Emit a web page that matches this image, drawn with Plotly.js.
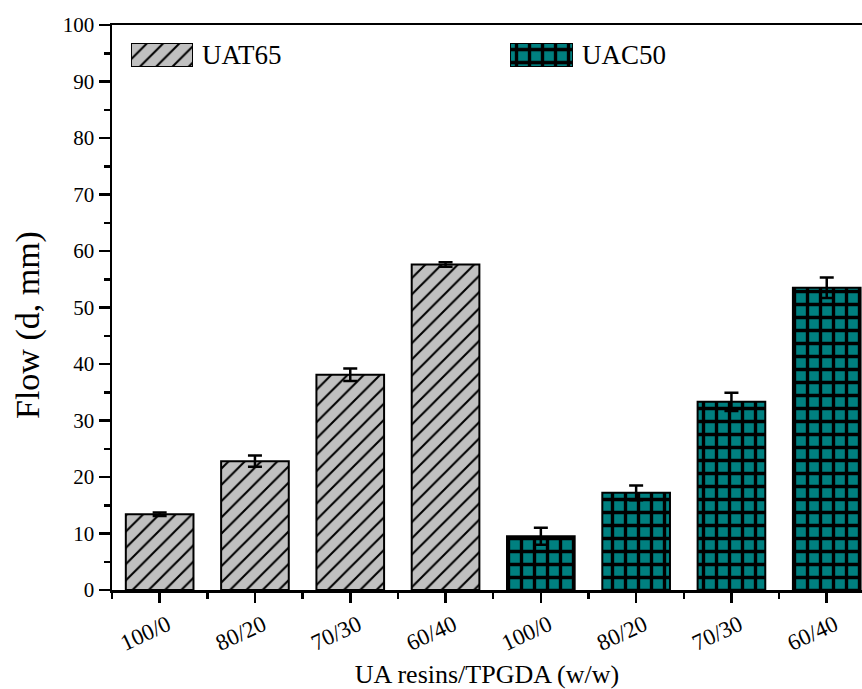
<!DOCTYPE html>
<html>
<head>
<meta charset="utf-8">
<script src="https://cdn.plot.ly/plotly-3.0.1.min.js"></script>
<style>html,body{margin:0;padding:0;background:#fff;overflow:hidden}</style>
</head>
<body>
<div id="chart" style="width:862px;height:689px"></div>
<script>
// UA resin / TPGDA blend ratios (w/w)
const ratios = ['100/0', '80/20', '70/30', '60/40'];
const seriesNames = ['UAT65', 'UAC50'];
// Flow distance d (mm) and its error
const uat65Flow = [13.4, 22.8, 38.1, 57.6];
const uat65Err = [0.3, 1.0, 1.1, 0.4];
const uac50Flow = [9.5, 17.2, 33.3, 53.5];
const uac50Err = [1.5, 1.3, 1.6, 1.8];
const yTickVals = [0, 10, 20, 30, 40, 50, 60, 70, 80, 90, 100];

const FONT = '"Liberation Serif", "Times New Roman", Times, serif';
const hatch = {shape: '/', bgcolor: '#c0c0c0', fgcolor: '#000000', size: 11.5, solidity: 0.18, fillmode: 'replace'};
const grid = {shape: '+', bgcolor: '#008080', fgcolor: '#000000', size: 13, solidity: 0.45, fillmode: 'replace'};

const uatX = ratios.map((_, i) => i);
const uacX = ratios.map((_, i) => i + ratios.length);
const errStyle = {type: 'data', visible: true, color: '#000', thickness: 2.5, width: 7};
const barLine = {color: '#000', width: 2};

const traces = [
  {type: 'bar', name: seriesNames[0], x: uatX, y: uat65Flow, width: 0.71,
   marker: {color: '#c0c0c0', pattern: hatch, line: barLine},
   error_y: Object.assign({array: uat65Err}, errStyle), showlegend: false},
  {type: 'bar', name: seriesNames[1], x: uacX, y: uac50Flow, width: 0.71,
   marker: {color: '#008080', pattern: grid, line: barLine},
   error_y: Object.assign({array: uac50Err}, errStyle), showlegend: false},
  // legend swatches, each filling its own small axis box
  {type: 'bar', x: [seriesNames[0]], y: [1], width: 1, xaxis: 'x2', yaxis: 'y2',
   marker: {color: '#c0c0c0', pattern: hatch, line: barLine}, showlegend: false, hoverinfo: 'skip'},
  {type: 'bar', x: [seriesNames[1]], y: [1], width: 1, xaxis: 'x3', yaxis: 'y2',
   marker: {color: '#008080', pattern: grid, line: barLine}, showlegend: false, hoverinfo: 'skip'}
];

const hiddenAxis = {visible: false, fixedrange: true};
const layout = {
  width: 862, height: 689,
  margin: {l: 112, r: 0, t: 25, b: 99},
  paper_bgcolor: '#fff', plot_bgcolor: '#fff',
  font: {family: FONT, color: '#000', size: 20},
  showlegend: false,
  bargap: 0,
  xaxis: {
    range: [-0.5, 7.37],
    tickmode: 'array', tickvals: uatX.concat(uacX), ticktext: ratios.concat(ratios),
    tickangle: -25, ticks: 'outside', ticklen: 10, tickwidth: 2.5, tickcolor: '#000',
    ticklabelshift: 8, ticklabelstandoff: 0,
    minor: {ticks: 'outside', ticklen: 6, tickwidth: 2.5, tickcolor: '#000', tickmode: 'linear', tick0: -0.5, dtick: 1},
    showline: true, linewidth: 2.5, linecolor: '#000', mirror: true,
    showgrid: false, zeroline: false,
    tickfont: {family: FONT, size: 23},
    title: {text: 'UA resins/TPGDA (w/w)', font: {family: FONT, size: 26}, standoff: 12}
  },
  yaxis: {
    range: [0, 100],
    tickmode: 'array', tickvals: yTickVals,
    ticks: 'outside', ticklen: 11, tickwidth: 2.5, tickcolor: '#000',
    minor: {ticks: 'outside', ticklen: 6, tickwidth: 2.5, tickcolor: '#000', tickmode: 'linear', tick0: 5, dtick: 10},
    showline: true, linewidth: 2.5, linecolor: '#000',
    showgrid: false, zeroline: false,
    tickfont: {family: FONT, size: 21}
  },
  xaxis2: Object.assign({domain: [0.0253, 0.108], anchor: 'y2', range: [-0.5, 0.5], type: 'category'}, hiddenAxis),
  xaxis3: Object.assign({domain: [0.5307, 0.6147], anchor: 'y2', range: [-0.5, 0.5], type: 'category'}, hiddenAxis),
  yaxis2: Object.assign({domain: [0.9257, 0.968], anchor: 'x2', range: [0, 1]}, hiddenAxis),
  annotations: [
    // y-axis title, set slightly below the plot's vertical centre
    {text: 'Flow (d, mm)', xref: 'paper', yref: 'paper', x: -0.112, y: 0.469, textangle: -90,
     xanchor: 'center', yanchor: 'middle', showarrow: false, font: {family: FONT, size: 34}},
    {text: seriesNames[0], xref: 'paper', yref: 'paper', x: 0.1173, y: 0.947, xanchor: 'left', yanchor: 'middle',
     showarrow: false, font: {family: FONT, size: 27}},
    {text: seriesNames[1], xref: 'paper', yref: 'paper', x: 0.624, y: 0.947, xanchor: 'left', yanchor: 'middle',
     showarrow: false, font: {family: FONT, size: 27}}
  ]
};

Plotly.newPlot('chart', traces, layout, {displayModeBar: false, staticPlot: true});
</script>
</body>
</html>
